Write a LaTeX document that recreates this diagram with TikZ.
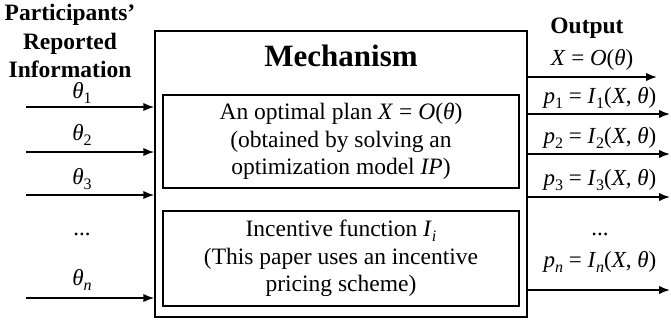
\documentclass[tikz,border=0pt]{standalone}
\usepackage{fontspec}
\setmainfont{Liberation Serif}
\usetikzlibrary{arrows.meta}
\newcommand\thv{\textit{θ}}
\newcommand\sbs[1]{\raisebox{-0.45ex}{\fontsize{16}{16}\selectfont #1}}
\tikzset{
  boxline/.style={draw, line width=1.5pt, inner sep=0pt},
  arr/.style={line width=1.8pt, -{Latex[length=11pt,width=8.5pt]}},
  body/.style={font=\fontsize{23.5}{27.5}\selectfont, align=center},
  lab/.style={font=\fontsize{23}{25}\selectfont, inner sep=0pt},
  ttl/.style={font=\fontsize{23.5}{28.5}\selectfont\bfseries, align=center, inner sep=0pt}
}
\begin{document}
\begin{tikzpicture}[x=1pt,y=-1pt]
\useasboundingbox (0,0) rectangle (671,322);
% outer box
\node[boxline, minimum width=372pt, minimum height=286pt] (mech) at (341,174) {};
\node[font=\fontsize{31}{34}\selectfont\bfseries, inner sep=0pt] (mtitle) at (341,56) {Mechanism};
\node[boxline, minimum width=356pt, minimum height=93pt, body] (plan) at (341,141.5)
  {An optimal plan \textit{X} = \textit{O}(\thv)\\(obtained by solving an\\optimization model \textit{IP})};
\node[boxline, minimum width=356pt, minimum height=95pt, body] (inc) at (341,258.5)
  {Incentive function \textit{I}\sbs{\textit{i}}\\(This paper uses an incentive\\pricing scheme)};
% left title
\node[ttl] (intitle) at (70,41) {Participants’\\Reported\\Information};
% inputs
\coordinate (i1) at (26,107);
\coordinate (i2) at (26,152);
\coordinate (i3) at (26,195);
\coordinate (in) at (26,298);
\draw[arr] (i1) -- (i1 -| mech.west);
\draw[arr] (i2) -- (i2 -| mech.west);
\draw[arr] (i3) -- (i3 -| mech.west);
\draw[arr] (in) -- (in -| mech.west);
\node[lab] (t1) at (82,93) {\thv\sbs{1}};
\node[lab] (t2) at (82,135) {\thv\sbs{2}};
\node[lab] (t3) at (82,179) {\thv\sbs{3}};
\node[lab] (tdots) at (82,234) {...};
\node[lab] (tn) at (82,280) {\thv\sbs{\textit{n}}};
% outputs
\node[ttl] (outtitle) at (587,28) {Output};
\coordinate (o0) at (657,77);
\coordinate (o1) at (670,114);
\coordinate (o2) at (670,154);
\coordinate (o3) at (670,197);
\coordinate (on) at (670,290);
\draw[arr] (o0 -| mech.east) -- (o0);
\draw[arr] (o1 -| mech.east) -- (o1);
\draw[arr] (o2 -| mech.east) -- (o2);
\draw[arr] (o3 -| mech.east) -- (o3);
\draw[arr] (on -| mech.east) -- (on);
\node[lab] (l0) at (592,60) {\textit{X} = \textit{O}(\thv)};
\node[lab] (l1) at (600,98) {\textit{p}\sbs{1} = \textit{I}\sbs{1}(\textit{X}, \thv)};
\node[lab] (l2) at (600,138) {\textit{p}\sbs{2} = \textit{I}\sbs{2}(\textit{X}, \thv)};
\node[lab] (l3) at (600,180) {\textit{p}\sbs{3} = \textit{I}\sbs{3}(\textit{X}, \thv)};
\node[lab] (ldots) at (600,234) {...};
\node[lab] (ln) at (600,262) {\textit{p}\sbs{\textit{n}} = \textit{I}\sbs{\textit{n}}(\textit{X}, \thv)};
\end{tikzpicture}
\end{document}
